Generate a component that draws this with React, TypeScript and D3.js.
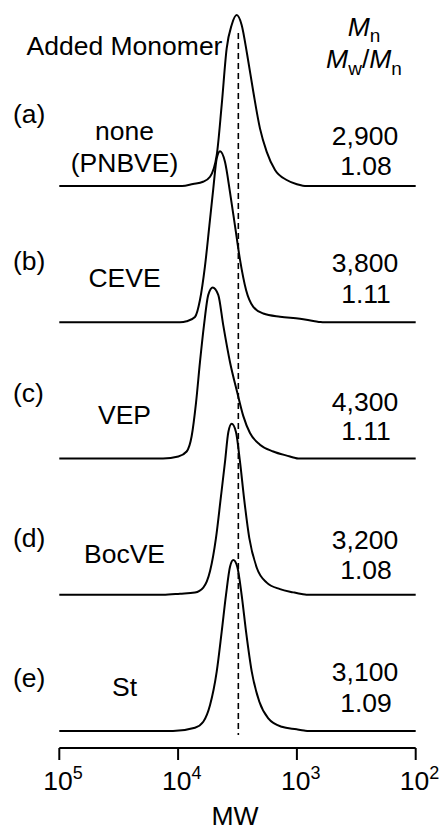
import React from 'react';
import * as d3 from 'd3';

// ---- data ----
const sampleLabels = ['(a)', '(b)', '(c)', '(d)', '(e)'];
const monomerNames = [['none', '(PNBVE)'], ['CEVE'], ['VEP'], ['BocVE'], ['St']];
const mnValues = ['2,900', '3,800', '4,300', '3,200', '3,100'];
const dispersityValues = ['1.08', '1.11', '1.11', '1.08', '1.09'];
const tickExponents = [5, 4, 3, 2];
const referenceLogMW = 3.493;

// [log10(MW), normalized RI intensity]
const traceA: [number, number][] = [
  [5, 0], [3.967, 0], [3.875, 0.012], [3.79, 0.025], [3.731, 0.054], [3.675, 0.18],
  [3.633, 0.474], [3.591, 0.805], [3.549, 0.942], [3.507, 1.0], [3.465, 0.942],
  [3.418, 0.766], [3.367, 0.551], [3.311, 0.337], [3.254, 0.2], [3.184, 0.094],
  [3.086, 0.035], [3.0, 0.01], [2.95, 0.002], [2.92, 0], [2, 0],
];
const traceB: [number, number][] = [
  [5, 0], [3.984, 0], [3.928, 0.006], [3.858, 0.031], [3.816, 0.13], [3.774, 0.327],
  [3.737, 0.563], [3.704, 0.78], [3.675, 0.957], [3.647, 1.0], [3.605, 0.937],
  [3.563, 0.76], [3.521, 0.563], [3.479, 0.366], [3.428, 0.189], [3.367, 0.09],
  [3.283, 0.051], [3.142, 0.032], [2.974, 0.021], [2.85, 0.006], [2.8, 0.001], [2.77, 0], [2, 0],
];
const traceC: [number, number][] = [
  [5, 0], [4.127, 0], [3.998, 0.012], [3.928, 0.041], [3.886, 0.13], [3.849, 0.327],
  [3.816, 0.563], [3.782, 0.78], [3.746, 0.957], [3.709, 1.0], [3.662, 0.957],
  [3.62, 0.78], [3.563, 0.563], [3.502, 0.386], [3.451, 0.248], [3.395, 0.149],
  [3.311, 0.081], [3.199, 0.041], [3.058, 0.012], [3.02, 0.004], [2.99, 0], [2, 0],
];
const traceD: [number, number][] = [
  [5, 0], [4.127, 0], [3.984, 0.006], [3.858, 0.013], [3.788, 0.042], [3.731, 0.139],
  [3.681, 0.333], [3.641, 0.565], [3.605, 0.778], [3.577, 0.952], [3.549, 1.0],
  [3.513, 0.952], [3.479, 0.778], [3.445, 0.565], [3.401, 0.333], [3.338, 0.158],
  [3.254, 0.071], [3.142, 0.033], [3.03, 0.014], [2.96, 0.004], [2.92, 0], [2, 0],
];
const traceE: [number, number][] = [
  [5, 0], [4.043, 0], [3.858, 0.019], [3.788, 0.054], [3.731, 0.152], [3.675, 0.347],
  [3.633, 0.581], [3.597, 0.795], [3.563, 0.961], [3.535, 1.0], [3.502, 0.961],
  [3.465, 0.795], [3.428, 0.581], [3.38, 0.347], [3.316, 0.171], [3.241, 0.074],
  [3.128, 0.025], [3.002, 0.01], [2.94, 0.003], [2.9, 0], [2, 0],
];
const traces = [traceA, traceB, traceC, traceD, traceE];

// ---- layout (not data) ----
const W = 443;
const H = 830;
const FONT = '"Liberation Sans", Arial, sans-serif';
const FS = 26.5;
const SUB = 19;
const labelY = [123, 270, 402, 547, 687];
const monomerY = [[140, 172], [287], [424], [563], [696]];
const mnY = [145, 272, 411, 549, 681];
const dispY = [175, 303, 440, 579, 712];

export default function App() {
  const x = d3.scaleLog().domain([1e5, 1e2]).range([59.3, 415.7]);
  const base = d3.scalePoint<string>().domain(sampleLabels).range([186, 731]);
  const amp = d3.scaleLinear().domain([0, 1]).range([0, 171]);
  const axisY = 748;

  const makeLine = (b: number) =>
    d3
      .line<[number, number]>()
      .x((d) => x(Math.pow(10, d[0])))
      .y((d) => b - amp(d[1]))
      .curve(d3.curveMonotoneX);

  const refX = x(Math.pow(10, referenceLogMW));

  return (
    <svg
      width={W}
      height={H}
      style={{ position: 'absolute', left: 0, top: 0, background: '#fff' }}
      fontFamily={FONT}
      fontSize={FS}
    >
      <rect width={W} height={H} fill="#fff" />
      {/* dashed reference line */}
      <line x1={refX} x2={refX} y1={33} y2={735} stroke="#000" strokeWidth={1.6} strokeDasharray="6,4" />

      {/* traces */}
      {traces.map((t, i) => (
        <path
          key={i}
          d={makeLine(base(sampleLabels[i]) as number)(t) as string}
          fill="none"
          stroke="#000"
          strokeWidth={2}
          strokeLinejoin="round"
        />
      ))}

      {/* headers */}
      <text x={124.5} y={55} textAnchor="middle">Added Monomer</text>
      <text x={364} y={36} textAnchor="middle">
        <tspan fontStyle="italic">M</tspan>
        <tspan fontSize={SUB} dy={6}>n</tspan>
      </text>
      <text x={364} y={68} textAnchor="middle">
        <tspan fontStyle="italic">M</tspan>
        <tspan fontSize={SUB} dy={7}>w</tspan>
        <tspan dy={-7}>/</tspan>
        <tspan fontStyle="italic">M</tspan>
        <tspan fontSize={SUB} dy={7}>n</tspan>
      </text>

      {sampleLabels.map((lab, i) => (
        <g key={lab}>
          <text x={13} y={labelY[i]}>{lab}</text>
          {monomerNames[i].map((m, j) => (
            <text key={j} x={124.5} y={monomerY[i][j]} textAnchor="middle">{m}</text>
          ))}
          <text x={365} y={mnY[i]} textAnchor="middle">{mnValues[i]}</text>
          <text x={366} y={dispY[i]} textAnchor="middle">{dispersityValues[i]}</text>
        </g>
      ))}

      {/* x axis */}
      <line x1={x(1e5)} x2={x(1e2)} y1={axisY} y2={axisY} stroke="#000" strokeWidth={2} />
      {tickExponents.map((e) => {
        const tx = x(Math.pow(10, e));
        return (
          <g key={e}>
            <line x1={tx} x2={tx} y1={axisY} y2={axisY + 12} stroke="#000" strokeWidth={2} />
            <text x={tx - 16} y={790}>
              10<tspan fontSize={18} dy={-11}>{e}</tspan>
            </text>
          </g>
        );
      })}
      <text x={235} y={825} textAnchor="middle">MW</text>
    </svg>
  );
}
